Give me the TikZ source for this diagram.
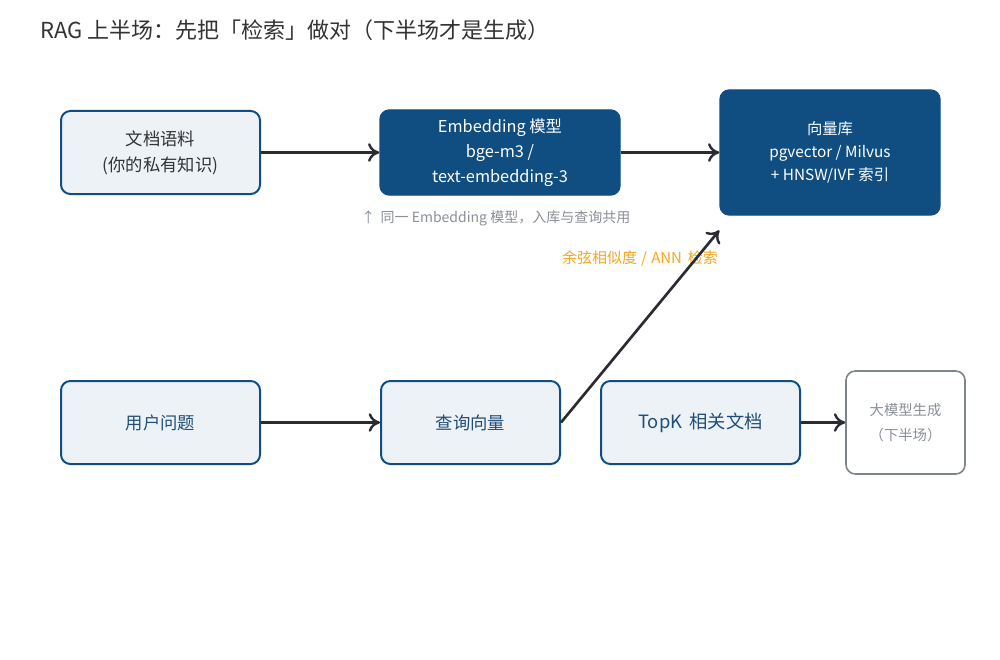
\documentclass[tikz,border=0pt]{standalone}
\usepackage{fontspec}
\setmainfont{Noto Sans CJK SC}
\usetikzlibrary{arrows.meta}
\definecolor{navy}{HTML}{104E82}
\definecolor{lightfill}{HTML}{EDF2F7}
\definecolor{darktext}{HTML}{333333}
\definecolor{bluetext}{HTML}{1F4E79}
\definecolor{arrowc}{HTML}{2B2B33}
\definecolor{graybox}{HTML}{7D848C}
\definecolor{graytext}{HTML}{8A9098}
\definecolor{orangec}{HTML}{F5A623}
\tikzset{
  px/.style={x=0.75pt,y=-0.75pt},
  lightbox/.style={draw=navy, line width=1.5pt, fill=lightfill, rounded corners=7pt, align=center, inner sep=0pt},
  darkbox/.style={draw=navy, line width=1pt, fill=navy, text=white, rounded corners=7pt, align=center, inner sep=0pt},
  ghostbox/.style={draw=graybox, line width=1.2pt, fill=white, rounded corners=7pt, align=center, inner sep=0pt, text=graytext},
  flow/.style={draw=arrowc, line width=2pt, -{To[length=8.5pt,width=14pt,line width=1.8pt]}},
}
\begin{document}
\begin{tikzpicture}[px]
\useasboundingbox (0,0) rectangle (1000,660);
\fill[white] (0,0) rectangle (1000,660);
\node[anchor=west, text=darktext, font=\fontsize{16.5pt}{20pt}\selectfont, inner sep=0pt] (title) at (40,30) {RAG 上半场：先把「检索」做对（下半场才是生成）};

\node[lightbox, minimum width=149.25pt, minimum height=62.25pt, text=darktext, font=\fontsize{13pt}{19.5pt}\selectfont] (docs) at (160.5,152.5) {文档语料\\(你的私有知识)};
\node[darkbox, minimum width=180pt, minimum height=63.75pt, font=\fontsize{12.25pt}{18.75pt}\selectfont] (emb) at (500,152.5) {Embedding 模型\\bge-m3 /\\text-embedding-3};
\node[darkbox, minimum width=165pt, minimum height=93.75pt, font=\fontsize{11.5pt}{17pt}\selectfont] (vdb) at (830,152.5) {向量库\\pgvector / Milvus\\+ HNSW/IVF 索引};

\node[lightbox, minimum width=149.25pt, minimum height=62.25pt, text=bluetext, font=\fontsize{13pt}{18pt}\selectfont] (q) at (160.5,422.5) {用户问题};
\node[lightbox, minimum width=134.25pt, minimum height=62.25pt, text=bluetext, font=\fontsize{13pt}{18pt}\selectfont] (qv) at (470.5,422.5) {查询向量};
\node[lightbox, minimum width=149.25pt, minimum height=62.25pt, text=bluetext, font=\fontsize{13.75pt}{18pt}\selectfont] (topk) at (700.5,422.5) {TopK\, 相关文档};
\node[ghostbox, minimum width=89.25pt, minimum height=77.25pt, font=\fontsize{10.75pt}{18.75pt}\selectfont] (llm) at (905.5,422.5) {大模型生成\\（下半场）};

\node[anchor=west, text=graytext, font=\fontsize{10.5pt}{12pt}\selectfont, inner sep=0pt] (note) at (361,218) {↑\, 同一 Embedding 模型，入库与查询共用};
\node[text=orangec, font=\fontsize{11.25pt}{12pt}\selectfont, inner sep=0pt] (ann) at (640,258) {余弦相似度\;/\;ANN\, 检索};

\draw[flow] (docs.east) -- (emb.west);
\draw[flow] (emb.east) -- (vdb.west |- emb.east);
\draw[flow] (q.east) -- (qv.west);
\draw[flow] (qv.east) -- ([yshift=-11pt]vdb.south west);
\draw[flow] (topk.east) -- (llm.west);
\end{tikzpicture}
\end{document}
